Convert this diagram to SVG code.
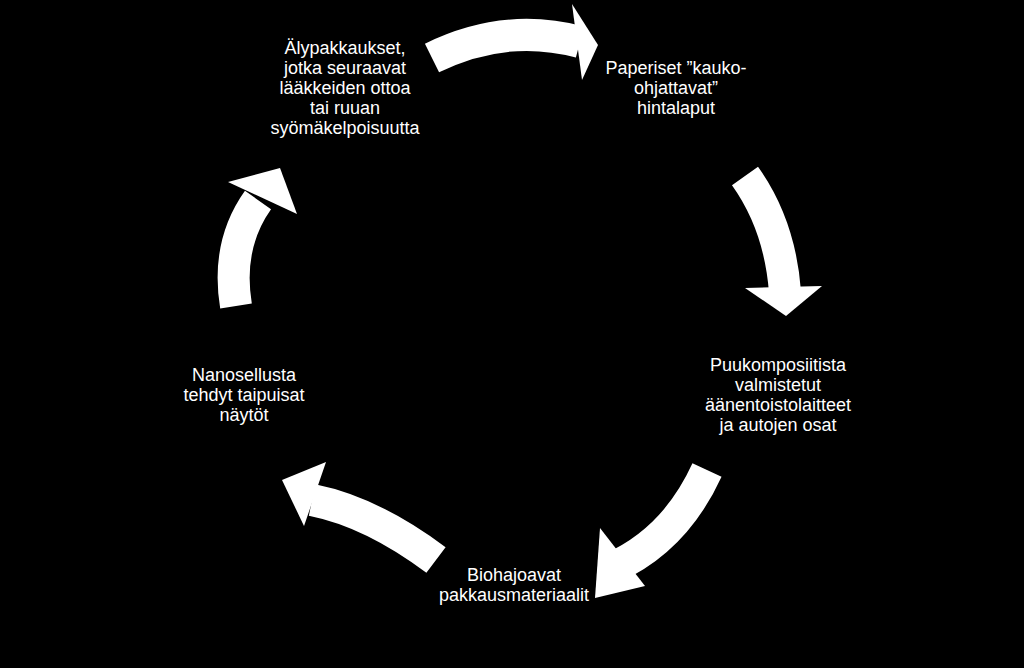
<svg xmlns="http://www.w3.org/2000/svg" width="1024" height="668" viewBox="0 0 1024 668">
<style>
.t{font-family:"Liberation Sans",Arial,sans-serif;font-size:18px;fill:#fff;text-anchor:middle}
.b{fill:none;stroke:#fff;stroke-width:32}
.h{fill:#fff}
</style>
<rect width="1024" height="668" fill="#000"/>
<g id="connectors">
<path class="b" d="M432,58 Q505,22 580,42"/><polygon class="h" points="572,4 598,45 582,80"/>
<path class="b" d="M745,176 Q780,225 785,292"/><polygon class="h" points="745,288 822,286 786,316"/>
<path class="b" d="M707,470 Q675,540 612,568"/><polygon class="h" points="600,528 595,598 645,586"/>
<path class="b" d="M436,560 Q372,512 312,500"/><polygon class="h" points="326,462 282,480 304,526"/>
<path class="b" d="M236,306 Q226,245 258,200"/><polygon class="h" points="228,182 280,168 297,214"/>
</g>
<g id="n1"><text class="t" x="345" y="54">Älypakkaukset,</text><text class="t" x="345" y="74">jotka seuraavat</text><text class="t" x="345" y="94">lääkkeiden ottoa</text><text class="t" x="345" y="114">tai ruuan</text><text class="t" x="345" y="134">syömäkelpoisuutta</text></g>
<g id="n2"><text class="t" x="676" y="74">Paperiset ”kauko-</text><text class="t" x="676" y="94">ohjattavat”</text><text class="t" x="676" y="114">hintalaput</text></g>
<g id="n3"><text class="t" x="778" y="371">Puukomposiitista</text><text class="t" x="778" y="391">valmistetut</text><text class="t" x="778" y="411">äänentoistolaitteet</text><text class="t" x="778" y="431">ja autojen osat</text></g>
<g id="n4"><text class="t" x="514" y="581">Biohajoavat</text><text class="t" x="514" y="601">pakkausmateriaalit</text></g>
<g id="n5"><text class="t" x="244" y="381">Nanosellusta</text><text class="t" x="244" y="401">tehdyt taipuisat</text><text class="t" x="244" y="421">näytöt</text></g>
</svg>
